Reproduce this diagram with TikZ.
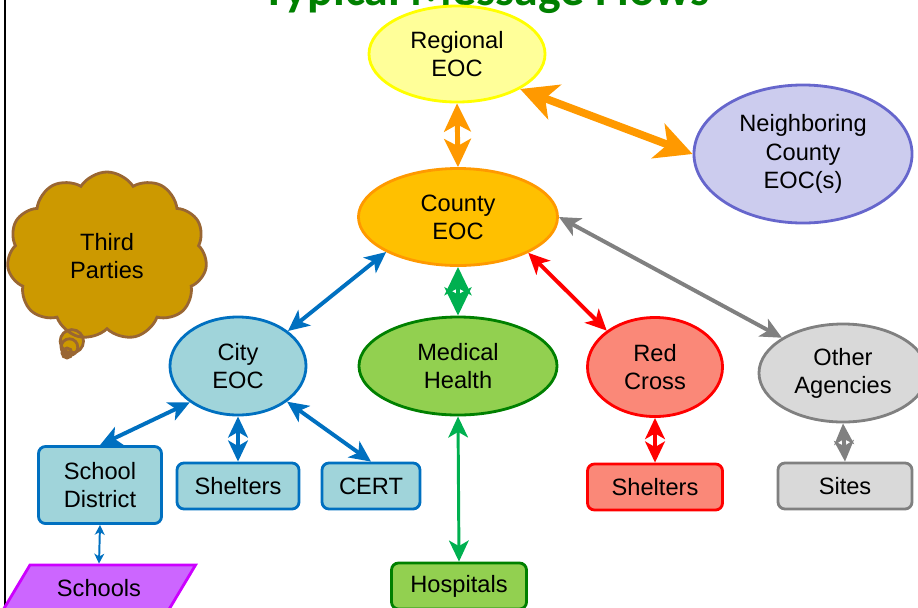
\documentclass[tikz,border=0pt]{standalone}
\usepackage{fontspec}
\setmainfont{Liberation Sans}
\newfontfamily\titlefont{Carlito}
\usetikzlibrary{arrows.meta,shapes.geometric,shapes.callouts,shapes.symbols}

\definecolor{titlegreen}{HTML}{008000}
\definecolor{regfill}{HTML}{FFFF99}
\definecolor{regline}{HTML}{FFFF00}
\definecolor{nbfill}{HTML}{CCCCEE}
\definecolor{nbline}{HTML}{6666CC}
\definecolor{cofill}{HTML}{FFC000}
\definecolor{coline}{HTML}{FF9900}
\definecolor{bluefill}{HTML}{A0D4DA}
\definecolor{blueline}{HTML}{0070C0}
\definecolor{medfill}{HTML}{92D050}
\definecolor{medline}{HTML}{008000}
\definecolor{medarrow}{HTML}{00B050}
\definecolor{redfill}{HTML}{FA8878}
\definecolor{redline}{HTML}{FF0000}
\definecolor{grayfill}{HTML}{D9D9D9}
\definecolor{grayline}{HTML}{808080}
\definecolor{schfill}{HTML}{CC66FF}
\definecolor{schline}{HTML}{CC00FF}
\definecolor{cloudfill}{HTML}{CC9900}
\definecolor{cloudline}{HTML}{996633}

\begin{document}
\begin{tikzpicture}[
        x=0.025cm, y=-0.025cm,                 % 1 单位 = 1 像素
        every node/.style={
            font=\fontsize{16.8}{20}\selectfont,
            align=center,
            inner sep=0pt,
            line width=2pt
        },
        oval/.style={ellipse, draw},
        box/.style={rectangle, rounded corners=5pt, draw, minimum height=1.15cm},
        bigflow/.style={<->, line width=5.5pt, >={Stealth[length=26pt, width=26pt, inset=7pt]}},
        midflow/.style={<->, line width=3.5pt, >={Stealth[length=20pt, width=19pt, inset=5pt]}},
        flow/.style={<->, line width=2.8pt, >={Stealth[length=15pt, width=14pt, inset=4pt]}},
        thinflow/.style={<->, line width=1.4pt, >={Stealth[length=7pt, width=7pt, inset=2pt]}}
    ]
    \useasboundingbox (0,0) rectangle (918,607);

    % 标题和边框
    \node[font=\titlefont\bfseries\fontsize{34}{38}\selectfont, text=titlegreen, anchor=base] (title) at (486,5) {Typical Message Flows};
    \draw[line width=2pt] (5,0) -- (5,607);

    % 节点
    \node[oval, fill=regfill, draw=regline, minimum width=4.4cm, minimum height=2.4cm] (regional) at (457,54) {Regional\\EOC};
    \node[oval, fill=nbfill, draw=nbline, minimum width=5.45cm, minimum height=3.45cm] (neighbor) at (803,154) {Neighboring\\County\\EOC(s)};
    \node[oval, fill=cofill, draw=coline, minimum width=4.975cm, minimum height=2.425cm] (county) at (458,217) {County\\EOC};
    \node[cloud callout, cloud puffs=11, cloud puff arc=115, aspect=1.3,
          minimum width=5cm, minimum height=4.2cm,
          callout absolute pointer={(67,353)},
          callout pointer start size=0.75cm, callout pointer end size=0.25cm,
          callout pointer segments=3,
          fill=cloudfill, draw=cloudline] (third) at (107,256) {Third\\Parties};

    \node[oval, fill=bluefill, draw=blueline, minimum width=3.4cm, minimum height=2.45cm] (city) at (238,366) {City\\EOC};
    \node[oval, fill=medfill, draw=medline, minimum width=4.95cm, minimum height=2.45cm] (medical) at (458,366) {Medical\\Health};
    \node[oval, fill=redfill, draw=redline, minimum width=3.375cm, minimum height=2.475cm] (redcross) at (655,367) {Red\\Cross};
    \node[oval, fill=grayfill, draw=grayline, minimum width=4.2cm, minimum height=2.45cm] (other) at (843,373) {Other\\Agencies};

    \node[box, fill=bluefill, draw=blueline, minimum width=3.075cm, minimum height=1.925cm] (district) at (100,485) {School\\District};
    \node[box, fill=bluefill, draw=blueline, minimum width=3.05cm] (cityshelters) at (238,486) {Shelters};
    \node[box, fill=bluefill, draw=blueline, minimum width=2.45cm] (cert) at (371,486) {CERT};
    \node[trapezium, trapezium left angle=46, trapezium right angle=134, trapezium stretches=true,
          minimum width=4.85cm, minimum height=1.15cm, fill=schfill, draw=schline] (schools) at (99,588) {Schools};
    \node[box, fill=medfill, draw=medline, minimum width=3.375cm] (hospitals) at (459,586) {Hospitals};
    \node[box, fill=redfill, draw=redline, minimum width=3.375cm] (redshelters) at (655,487) {Shelters};
    \node[box, fill=grayfill, draw=grayline, minimum width=3.35cm] (sites) at (845,486) {Sites};

    % 边
    \draw[midflow, coline] (regional.south) -- (county.north);
    \draw[bigflow, coline] (regional.331) -- (neighbor.west);
    \draw[flow, blueline] (county.206) -- (city.35);
    \draw[midflow, medarrow] (county.south) -- (medical.north);
    \draw[flow, redline] (county.333) -- (redcross.143);
    \draw[flow, grayline] (county.east) -- (other.150);
    \draw[flow, blueline] (city.217) -- (district.north);
    \draw[flow, blueline] (city.south) -- (cityshelters.north);
    \draw[flow, blueline] (city.324) -- (cert.north);
    \draw[thinflow, blueline] (district.south) -- (schools.north);
    \draw[flow, medarrow, line width=2.1pt] (medical.south) -- (hospitals.north);
    \draw[flow, redline] (redcross.south) -- (redshelters.north);
    \draw[flow, grayline] (other.south) -- (sites.north);
\end{tikzpicture}
\end{document}
